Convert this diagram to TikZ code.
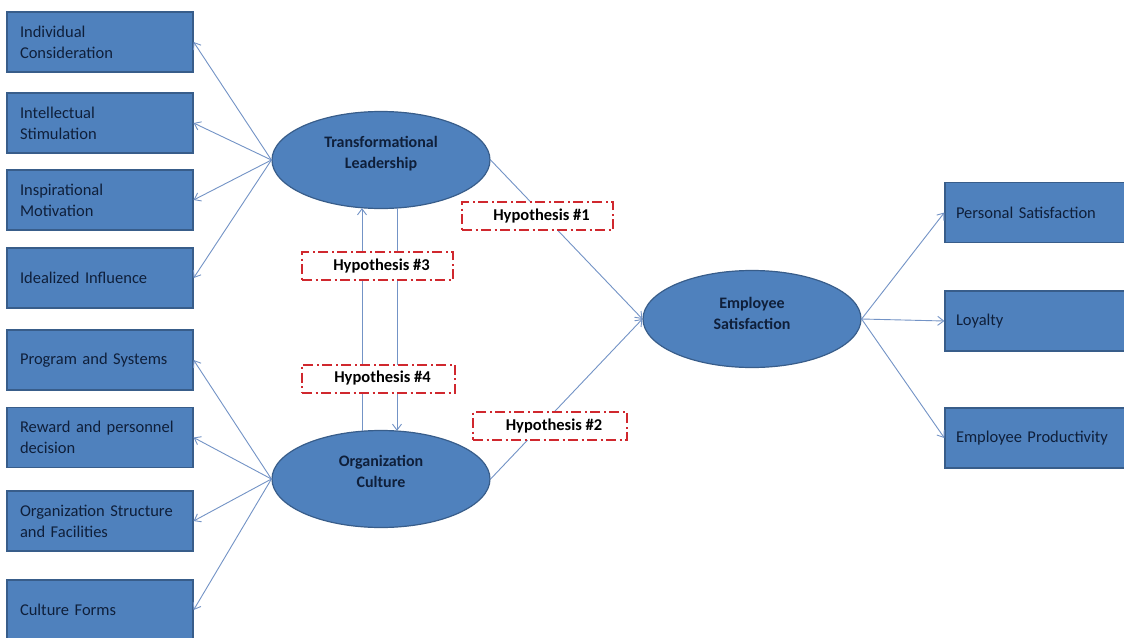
\documentclass[tikz,border=0pt]{standalone}
\usepackage{fontspec}
\setmainfont{Carlito}
\usetikzlibrary{arrows.meta,calc,shapes.geometric}
\definecolor{boxfill}{HTML}{4F81BD}
\definecolor{boxline}{HTML}{385D8A}
\definecolor{conn}{HTML}{7393C6}
\definecolor{txt}{HTML}{0F1F3A}
\definecolor{hypred}{HTML}{D0282E}
\begin{document}
\begin{tikzpicture}[x=1pt,y=-1pt,
  sq/.style={draw=boxline, line width=1.2pt, fill=boxfill, minimum width=186pt,
    minimum height=60pt, text width=160pt, inner xsep=13pt, inner ysep=0pt,
    align=left, font=\fontsize{16.5}{21}\selectfont, text=txt},
  rsq/.style={sq, minimum width=182pt, text width=160pt, inner xsep=11pt},
  ell/.style={ellipse, draw=boxline, line width=1.2pt, fill=boxfill,
    minimum width=218pt, minimum height=97pt, inner sep=0pt, align=center,
    font=\fontsize{16}{21}\selectfont\bfseries, text=txt},
  hyp/.style={draw=hypred, line width=2pt, fill=white,
    dash pattern=on 10pt off 3.5pt on 2pt off 3.5pt,
    minimum width=151pt, minimum height=28pt, inner sep=0pt,
    font=\fontsize{16.5}{18}\selectfont\bfseries, text=black},
  arr/.style={draw=conn, line width=0.9pt, -{Straight Barb[length=6pt,width=9pt]}}
]
\useasboundingbox (0,0) rectangle (1124,637);
\fill[white] (0,0) rectangle (1124,637);

% left boxes
\node[sq] (b1) at (100,42)  {Individual\\Consideration};
\node[sq] (b2) at (100,123) {Intellectual\\Stimulation};
\node[sq] (b3) at (100,200) {Inspirational\\Motivation};
\node[sq] (b4) at (100,278) {Idealized Influence};
\node[sq] (b5) at (100,360) {Program and Systems};
\node[sq] (b6) at (100,437.5) {Reward and personnel\\decision};
\node[sq] (b7) at (100,521) {Organization Structure\\and Facilities};
\node[sq] (b8) at (100,610) {Culture Forms};

% ellipses
\node[ell] (tl) at (381,160) {Transformational\\Leadership\\[-6pt]\mbox{}};
\node[ell] (oc) at (381,479) {Organization\\Culture\\[-6pt]\mbox{}};
\node[ell] (es) at (752,319) {Employee\\Satisfaction\\[-9pt]\mbox{}};

% right boxes
\node[rsq] (r1) at (1036,212.5) {Personal Satisfaction};
\node[rsq] (r2) at (1036,321) {Loyalty};
\node[rsq] (r3) at (1036,438) {Employee Productivity};

% connectors
\foreach \b in {b1,b2,b3,b4} \draw[arr] (tl.west) -- (\b.east);
\foreach \b in {b5,b6,b7,b8} \draw[arr] (oc.west) -- (\b.east);
\foreach \r in {r1,r2,r3} \draw[arr] (es.east) -- (\r.west);
\draw[arr] (tl.east) -- (es.west);
\draw[arr] (oc.east) -- (es.west);
\draw[arr] ($(oc.north)+(-19,1)$) -- ($(tl.south)+(-19,-1)$);
\draw[arr] ($(tl.south)+(16,-1)$) -- ($(oc.north)+(16,1)$);

% hypothesis labels
\node[hyp] (h1) at (537.5,216) {\hspace*{8pt}Hypothesis \#1};
\node[hyp] (h3) at (377.5,266) {\hspace*{8pt}Hypothesis \#3};
\node[hyp, minimum width=153pt] (h4) at (378.5,378.5) {\hspace*{8pt}Hypothesis \#4};
\node[hyp, minimum width=154pt] (h2) at (550,426) {\hspace*{8pt}Hypothesis \#2};
\end{tikzpicture}
\end{document}
